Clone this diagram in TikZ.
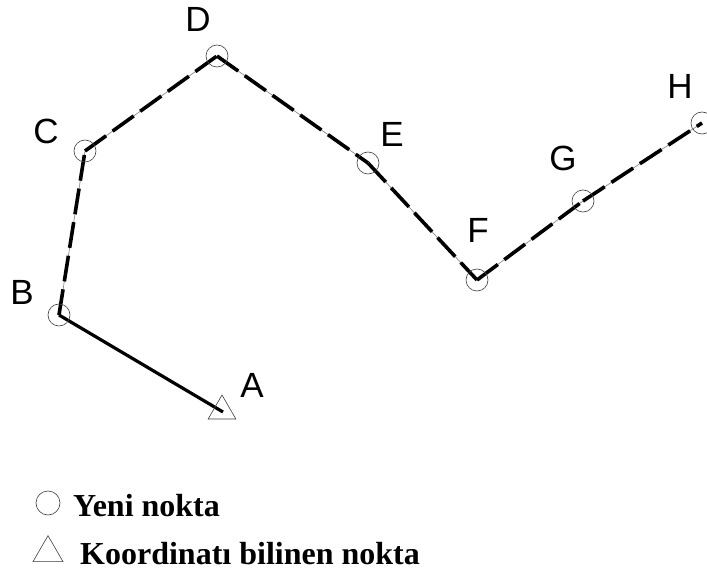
\documentclass[tikz,border=0pt]{standalone}
\usepackage{fontspec}
\setmainfont{Liberation Serif}
\newfontfamily\lblfont{Liberation Sans}
\usetikzlibrary{shapes.geometric}
\begin{document}
\begin{tikzpicture}[x=1pt,y=-1pt,
  ptmark/.style={circle,draw=black!75,line width=0.6pt,minimum size=22pt,inner sep=0pt},
  knownmark/.style={isosceles triangle,isosceles triangle apex angle=60,shape border rotate=90,draw=black!75,line width=0.6pt,minimum height=24pt,inner sep=0pt},
  lbl/.style={font=\lblfont\fontsize{35}{35}\selectfont,inner sep=0pt},
  solidleg/.style={line width=3.2pt,black},
  thinleg/.style={line width=0.7pt,black!45},
  dashleg/.style={line width=3.6pt,black,dash pattern=on 26pt off 8pt},
  legtext/.style={font=\bfseries\fontsize{32}{32}\selectfont,anchor=base west,inner sep=0pt}]
\useasboundingbox (0,0) rectangle (707,572);
\fill[white] (0,0) rectangle (707,572);
% survey points
\coordinate (A) at (223,412);
\coordinate (B) at (59,315);
\coordinate (C) at (85,151);
\coordinate (D) at (217,56);
\coordinate (E) at (368,163);
\coordinate (F) at (477,280);
\coordinate (G) at (583,201);
\coordinate (H) at (702,123);
% traverse
\draw[solidleg] (A) -- (B);
\draw[thinleg] (B) -- (C) -- (D) -- (E) -- (F) -- (G) -- (H);
\draw[dashleg] (B) -- (C);
\draw[dashleg] (C) -- (D);
\draw[dashleg] (D) -- (E);
\draw[dashleg] (E) -- (F);
\draw[dashleg] (F) -- (G);
\draw[dashleg] (G) -- (H);
% markers
\node[knownmark] (mA) at (222,411) {};
\node[ptmark] (mB) at (B) {};
\node[ptmark] (mC) at (C) {};
\node[ptmark] (mD) at (D) {};
\node[ptmark] (mE) at (E) {};
\node[ptmark] (mF) at (F) {};
\node[ptmark] (mG) at (G) {};
\node[ptmark] (mH) at (H) {};
% labels
\node[lbl] (lA) at (252,385) {A};
\node[lbl] (lB) at (22,292) {B};
\node[lbl] (lC) at (46,131) {C};
\node[lbl] (lD) at (198,19) {D};
\node[lbl] (lE) at (392,134) {E};
\node[lbl] (lF) at (478,230) {F};
\node[lbl] (lG) at (563,158) {G};
\node[lbl] (lH) at (680,86) {H};
% legend
\node[ptmark,minimum size=24pt] (legC) at (48,503) {};
\node[legtext] (legCt) at (73,516) {Yeni nokta};
\node[knownmark,minimum height=26pt] (legT) at (48,553) {};
\node[legtext] (legTt) at (80,564) {Koordinatı bilinen nokta};
\end{tikzpicture}
\end{document}
